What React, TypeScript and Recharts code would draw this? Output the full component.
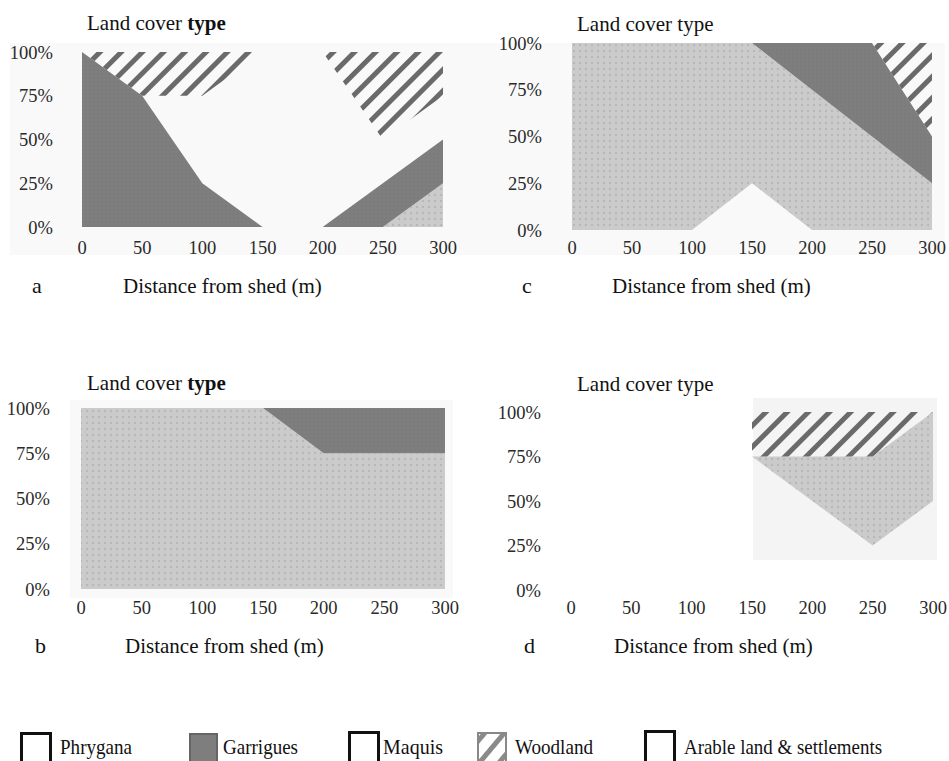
import React from 'react';
import { AreaChart, Area, XAxis, YAxis } from 'recharts';

// ---- data ----
const distances = [0, 50, 100, 150, 200, 250, 300];
const distancesD = [150, 200, 250, 300];
const xTicks = [0, 50, 100, 150, 200, 250, 300];
const yTicks = [0, 25, 50, 75, 100];
const categories = ['Phrygana', 'Garrigues', 'Maquis', 'Woodland', 'Arable land & settlements'];

// panel a
const arableA = [0, 0, 0, 0, 0, 0, 0];
const phryganaA = [0, 0, 0, 0, 0, 0, 25];
const garriguesA = [100, 75, 25, 0, 0, 25, 25];
const maquisA = [0, 0, 50, 100, 100, 25, 25];
const woodlandA = [0, 25, 25, 0, 0, 50, 25];

// panel b
const arableB = [0, 0, 0, 0, 0, 0, 0];
const phryganaB = [100, 100, 100, 100, 75, 75, 75];
const garriguesB = [0, 0, 0, 0, 25, 25, 25];
const maquisB = [0, 0, 0, 0, 0, 0, 0];
const woodlandB = [0, 0, 0, 0, 0, 0, 0];

// panel c
const arableC = [0, 0, 0, 25, 0, 0, 0];
const phryganaC = [100, 100, 100, 75, 75, 50, 25];
const garriguesC = [0, 0, 0, 0, 25, 50, 25];
const maquisC = [0, 0, 0, 0, 0, 0, 0];
const woodlandC = [0, 0, 0, 0, 0, 0, 50];

// panel d
const arableD = [75, 50, 25, 50];
const phryganaD = [0, 25, 50, 50];
const garriguesD = [0, 0, 0, 0];
const maquisD = [0, 0, 0, 0];
const woodlandD = [25, 25, 25, 0];

const build = (xs: number[], ar: number[], ph: number[], ga: number[], ma: number[], wo: number[]) =>
  xs.map((x, i) => ({ x, arable: ar[i], phrygana: ph[i], garrigues: ga[i], maquis: ma[i], woodland: wo[i] }));

const dataA = build(distances, arableA, phryganaA, garriguesA, maquisA, woodlandA);
const dataB = build(distances, arableB, phryganaB, garriguesB, maquisB, woodlandB);
const dataC = build(distances, arableC, phryganaC, garriguesC, maquisC, woodlandC);
const dataD = build(distancesD, arableD, phryganaD, garriguesD, maquisD, woodlandD);

const FONT = '"Liberation Serif", "Times New Roman", serif';
const DARK = '#7e7e7e';
const STRIPE = '#6a6a6a';

type PanelProps = {
  id: string;
  left: number;
  top: number;
  width: number;
  height: number;
  data: any[];
  yWidth: number;
  mTop: number;
  mRight: number;
  mBottom: number;
  xMargin: number;
  yMargin: number;
};

function Panel({ id, left, top, width, height, data, yWidth, mTop, mRight, mBottom, xMargin, yMargin }: PanelProps) {
  const tickStyle = { fontFamily: FONT, fontSize: 18.5, fill: '#2a2a2a' };
  return (
    <div style={{ position: 'absolute', left, top }}>
      <AreaChart width={width} height={height} data={data} margin={{ top: mTop, right: mRight, bottom: mBottom, left: 0 }}>
        <defs>
          <pattern id={`${id}-hatch`} patternUnits="userSpaceOnUse" width="15" height="15" patternTransform="rotate(45)">
            <rect x="0" y="0" width="5" height="15" fill={STRIPE} />
          </pattern>
          <pattern id={`${id}-dots`} patternUnits="userSpaceOnUse" width="6" height="6">
            <rect x="0" y="0" width="6" height="6" fill="#cbcbcb" />
            <circle cx="3" cy="3" r="1.2" fill="#b8b8b8" />
          </pattern>
          <pattern id={`${id}-dark`} patternUnits="userSpaceOnUse" width="4" height="4">
            <rect x="0" y="0" width="4" height="4" fill={DARK} />
            <circle cx="2" cy="2" r="0.8" fill="#777777" />
          </pattern>
        </defs>
        <XAxis
          type="number"
          dataKey="x"
          domain={[0, 300]}
          ticks={xTicks}
          axisLine={false}
          tickLine={false}
          tickSize={0}
          tickMargin={xMargin}
          height={30}
          tick={tickStyle}
        />
        <YAxis
          type="number"
          domain={[0, 100]}
          ticks={yTicks}
          tickFormatter={(v: number) => `${v}%`}
          axisLine={false}
          tickLine={false}
          tickSize={0}
          tickMargin={yMargin}
          width={yWidth}
          tick={tickStyle}
        />
        <Area type="linear" dataKey="arable" name={categories[4]} stackId="s" stroke="none" fill="#ffffff" fillOpacity={0} isAnimationActive={false} dot={false} activeDot={false} />
        <Area type="linear" dataKey="phrygana" name={categories[0]} stackId="s" stroke="none" fill={`url(#${id}-dots)`} fillOpacity={1} isAnimationActive={false} dot={false} activeDot={false} />
        <Area type="linear" dataKey="garrigues" name={categories[1]} stackId="s" stroke="none" fill={`url(#${id}-dark)`} fillOpacity={1} isAnimationActive={false} dot={false} activeDot={false} />
        <Area type="linear" dataKey="maquis" name={categories[2]} stackId="s" stroke="none" fill="#ffffff" fillOpacity={0} isAnimationActive={false} dot={false} activeDot={false} />
        <Area type="linear" dataKey="woodland" name={categories[3]} stackId="s" stroke="none" fill={`url(#${id}-hatch)`} fillOpacity={1} isAnimationActive={false} dot={false} activeDot={false} />
      </AreaChart>
    </div>
  );
}

function Title({ x, y, bold }: { x: number; y: number; bold: boolean }) {
  return (
    <text x={x} y={y} fontFamily={FONT} fontSize={21} fill="#111">
      Land cover{' '}
      <tspan fontWeight={bold ? 'bold' : 'normal'}>type</tspan>
    </text>
  );
}

function XLabel({ letter, lx, x, y }: { letter: string; lx: number; x: number; y: number }) {
  return (
    <g fontFamily={FONT} fill="#111">
      <text x={lx} y={y} fontSize={22}>{letter}</text>
      <text x={x} y={y} fontSize={21}>Distance from shed (m)</text>
    </g>
  );
}

const legendItems = [
  { label: categories[0], bx: 20, bw: 32, top: 732, kind: 'empty', tx: 60, tw: 72 },
  { label: categories[1], bx: 189, bw: 29, top: 733, kind: 'dark', tx: 223, tw: 75 },
  { label: categories[2], bx: 348, bw: 32, top: 731, kind: 'empty', tx: 383, tw: 60 },
  { label: categories[3], bx: 477, bw: 30, top: 732, kind: 'hatch', tx: 515, tw: 78 },
  { label: categories[4], bx: 644, bw: 32, top: 730, kind: 'empty', tx: 684, tw: 198 },
];

export default function App() {
  return (
    <div style={{ position: 'absolute', left: 0, top: 0, width: 949, height: 761, background: '#ffffff', overflow: 'hidden', fontFamily: FONT }}>
      {/* scanned light-grey backgrounds */}
      <div style={{ position: 'absolute', left: 10, top: 43, width: 465, height: 212, background: '#f9f9f9' }} />
      <div style={{ position: 'absolute', left: 475, top: 43, width: 470, height: 212, background: '#f9f9f9' }} />
      <div style={{ position: 'absolute', left: 70, top: 400, width: 383, height: 198, background: '#f9f9f9' }} />
      <div style={{ position: 'absolute', left: 753, top: 398, width: 184, height: 162, background: '#f4f4f4' }} />

      <Panel id="pa" left={0} top={0} width={475} height={270} data={dataA} yWidth={82} mTop={52} mRight={32} mBottom={13} xMargin={14} yMargin={29} />
      <Panel id="pc" left={475} top={0} width={474} height={270} data={dataC} yWidth={97} mTop={43} mRight={17} mBottom={10} xMargin={11} yMargin={30} />
      <Panel id="pb" left={0} top={360} width={475} height={270} data={dataB} yWidth={81} mTop={48} mRight={30} mBottom={11} xMargin={12} yMargin={31} />
      <Panel id="pd" left={475} top={360} width={474} height={270} data={dataD} yWidth={96} mTop={52} mRight={16} mBottom={10} xMargin={11} yMargin={30} />

      <svg width={949} height={761} style={{ position: 'absolute', left: 0, top: 0, pointerEvents: 'none' }}>
        <defs>
          <pattern id="lg-hatch" patternUnits="userSpaceOnUse" width="15" height="15" patternTransform="rotate(40)">
            <rect x="0" y="0" width="5" height="15" fill="#8a8a8a" />
          </pattern>
        </defs>
        <Title x={87} y={30} bold={true} />
        <Title x={577} y={31} bold={false} />
        <Title x={87} y={390} bold={true} />
        <Title x={577} y={391} bold={false} />

        <XLabel letter="a" lx={32} x={123} y={293} />
        <XLabel letter="c" lx={522} x={612} y={293} />
        <XLabel letter="b" lx={35} x={125} y={653} />
        <XLabel letter="d" lx={524} x={614} y={653} />

        {legendItems.map((it) => (
          <g key={it.label}>
            {it.kind === 'empty' && (
              <rect x={it.bx + 1.5} y={it.top + 1.5} width={it.bw - 3} height={40} fill="#ffffff" stroke="#111" strokeWidth={3} />
            )}
            {it.kind === 'dark' && (
              <rect x={it.bx + 1} y={it.top + 1} width={it.bw - 2} height={40} fill={DARK} stroke="#666" strokeWidth={2} />
            )}
            {it.kind === 'hatch' && (
              <rect x={it.bx + 1} y={it.top + 1} width={it.bw - 2} height={40} fill="url(#lg-hatch)" stroke="#888" strokeWidth={2} />
            )}
            <text x={it.tx} y={754} fontFamily={FONT} fontSize={22} fill="#111" textLength={it.tw} lengthAdjust="spacingAndGlyphs">
              {it.label}
            </text>
          </g>
        ))}
      </svg>
    </div>
  );
}
